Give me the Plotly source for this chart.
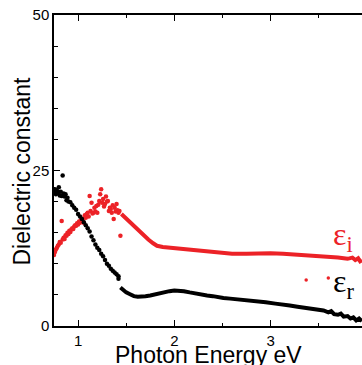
import plotly.graph_objects as go

# epsilon_r (black) scattered low-energy part
er_scatter_x = [0.75, 0.76, 0.77, 0.78, 0.79, 0.80, 0.81, 0.82, 0.83, 0.84, 0.85, 0.86, 0.87, 0.88, 0.89,
                0.90, 0.92, 0.94, 0.96, 0.98, 1.00, 1.02, 1.04, 1.06, 1.08, 1.10, 1.12, 1.14, 1.16, 1.18,
                1.20, 1.22, 1.24, 1.26, 1.28, 1.30, 1.32, 1.34, 1.36, 1.38, 1.40, 1.42, 1.42]
er_scatter_y = [21.5, 22.0, 21.2, 21.8, 21.4, 22.3, 21.0, 21.6, 20.9, 24.2, 21.3, 20.8, 21.2, 20.2, 20.6,
                20.0, 19.9, 19.4, 19.0, 18.7, 18.0, 17.6, 17.2, 16.7, 16.2, 15.7, 15.2, 14.4, 13.8, 13.1,
                12.6, 12.2, 11.6, 11.2, 10.6, 10.0, 9.7, 9.2, 8.9, 8.6, 8.3, 8.0, 7.6]

# epsilon_r dense part
er_line_x = [1.44, 1.47, 1.50, 1.54, 1.58, 1.62, 1.66, 1.70, 1.75, 1.80, 1.85, 1.90, 1.95, 2.00, 2.05,
             2.10, 2.16, 2.22, 2.28, 2.34, 2.40, 2.46, 2.51, 2.58, 2.65, 2.75, 2.85, 2.95, 3.05, 3.13,
             3.20, 3.28, 3.36, 3.44, 3.50, 3.55, 3.60, 3.63, 3.66, 3.70, 3.73, 3.76, 3.80, 3.83, 3.86,
             3.89, 3.92, 3.95]
er_line_y = [6.2, 5.8, 5.4, 5.1, 4.8, 4.7, 4.7, 4.8, 4.9, 5.1, 5.3, 5.5, 5.6, 5.7, 5.7,
             5.6, 5.4, 5.2, 5.1, 4.9, 4.8, 4.6, 4.5, 4.4, 4.3, 4.2, 4.0, 3.8, 3.6, 3.5,
             3.3, 3.1, 2.9, 2.8, 2.6, 2.5, 2.2, 2.4, 1.9, 1.8, 2.0, 1.5, 1.6, 1.2, 1.4,
             0.9, 1.2, 0.8]

# epsilon_i (red) scattered low-energy part
ei_scatter_x = [0.75, 0.76, 0.77, 0.78, 0.79, 0.80, 0.81, 0.82, 0.83, 0.84, 0.85, 0.86, 0.87, 0.88, 0.89,
                0.90, 0.91, 0.92, 0.93, 0.94, 0.95, 0.96, 0.97, 0.98, 0.99, 1.00, 1.01, 1.02, 1.03, 1.04,
                1.05, 1.06, 1.07, 1.08, 1.09, 1.10, 1.11, 1.12, 1.13, 1.14, 1.15, 1.16, 1.17, 1.18, 1.19,
                1.20, 1.21, 1.22, 1.23, 1.24, 1.25, 1.26, 1.27, 1.28, 1.29, 1.30, 1.31, 1.32, 1.33, 1.34,
                1.35, 1.36, 1.37, 1.38, 1.39, 1.40, 1.41, 1.42, 1.43, 1.44]
ei_scatter_y = [11.4, 11.9, 12.3, 12.6, 12.9, 13.1, 13.5, 13.4, 16.9, 13.9, 14.2, 14.0, 14.6, 14.5, 15.0,
                14.8, 15.3, 15.1, 15.5, 15.7, 15.6, 16.0, 16.2, 16.1, 16.5, 16.3, 16.8, 16.6, 17.0, 17.3,
                17.1, 16.6, 17.8, 17.4, 18.0, 18.2, 17.6, 20.9, 18.5, 19.8, 18.1, 18.2, 19.0, 18.4, 19.3,
                18.2, 19.5, 20.1, 21.2, 22.0, 19.8, 20.4, 19.2, 19.6, 20.8, 20.0, 20.1, 18.5, 19.0, 18.8,
                18.2, 19.4, 17.2, 19.0, 18.4, 19.6, 18.6, 18.2, 18.5, 14.5]

# epsilon_i dense part
ei_line_x = [1.45, 1.49, 1.52, 1.57, 1.63, 1.68, 1.73, 1.78, 1.82, 1.88, 1.95, 2.05, 2.16, 2.25, 2.34,
             2.42, 2.51, 2.60, 2.75, 2.90, 3.00, 3.13, 3.25, 3.35, 3.48, 3.58, 3.65, 3.70, 3.76, 3.80,
             3.85, 3.88, 3.91, 3.93, 3.95]
ei_line_y = [18.0, 17.4, 16.9, 16.1, 15.2, 14.6, 13.9, 13.3, 12.9, 12.7, 12.6, 12.5, 12.3, 12.2, 12.1,
             11.9, 11.7, 11.6, 11.6, 11.7, 11.7, 11.6, 11.5, 11.4, 11.3, 11.2, 11.1, 11.0, 10.9, 10.8,
             11.0, 10.6, 10.9, 10.4, 10.6]

# stray red points
ei_out_x = [3.37, 3.60]
ei_out_y = [7.4, 7.7]

x_ticks = [1, 2, 3]
y_ticks = [0, 25, 50]

RED = "#ec2227"
BLACK = "#000000"

fig = go.Figure()
fig.add_trace(go.Scatter(x=ei_line_x, y=ei_line_y, mode="lines",
                         line=dict(color=RED, width=4), hoverinfo="skip"))
fig.add_trace(go.Scatter(x=ei_scatter_x, y=ei_scatter_y, mode="markers",
                         marker=dict(color=RED, size=4.5)))
fig.add_trace(go.Scatter(x=ei_out_x, y=ei_out_y, mode="markers",
                         marker=dict(color=RED, size=3.5)))
fig.add_trace(go.Scatter(x=er_line_x, y=er_line_y, mode="lines",
                         line=dict(color=BLACK, width=4), hoverinfo="skip"))
fig.add_trace(go.Scatter(x=er_scatter_x, y=er_scatter_y, mode="markers",
                         marker=dict(color=BLACK, size=4.5)))

fig.update_layout(
    width=362, height=365,
    margin=dict(l=54, r=0, t=15, b=39),
    paper_bgcolor="white", plot_bgcolor="white",
    showlegend=False,
    font=dict(family="Liberation Sans, Arial", color="black", size=15),
    xaxis=dict(range=[0.75, 3.95], tickvals=x_ticks, ticks="inside", ticklen=6, tickwidth=1,
               tickcolor="black", showline=True, linecolor="black", linewidth=1.5,
               mirror="ticks", showgrid=False, zeroline=False,
               minor=dict(dtick=0.5, tick0=0, ticks="inside", ticklen=3, tickcolor="black"),
               tickfont=dict(size=15)),
    yaxis=dict(range=[0, 50], tickvals=y_ticks, ticks="inside", ticklen=6, tickwidth=1,
               tickcolor="black", showline=True, linecolor="black", linewidth=1.5,
               mirror=False, showgrid=False, zeroline=False,
               minor=dict(dtick=5, tick0=0, ticks="inside", ticklen=4, tickcolor="black"),
               tickfont=dict(size=15)),
    annotations=[
        dict(text="Photon Energy eV", xref="paper", yref="paper", x=0.5, y=0,
             yshift=-29, xanchor="center", yanchor="middle", showarrow=False,
             font=dict(size=23, family="Liberation Sans, Arial")),
        dict(text="Dielectric constant", xref="paper", yref="paper", x=0, y=0.5,
             xshift=-33, yshift=-1, textangle=-90, xanchor="center", yanchor="middle",
             showarrow=False, font=dict(size=23, family="Liberation Sans, Arial")),
        dict(text="ε<sub>i</sub>", x=3.63, y=14.4, xanchor="left", yanchor="middle",
             showarrow=False, font=dict(size=32, family="Liberation Serif, Times New Roman", color=RED)),
        dict(text="ε<sub>r</sub>", x=3.63, y=6.8, xanchor="left", yanchor="middle",
             showarrow=False, font=dict(size=32, family="Liberation Serif, Times New Roman", color=BLACK)),
    ],
)

fig.write_html("out.html", config={"displayModeBar": False},
               post_script="document.body.style.margin='0';document.body.style.overflow='hidden';")
